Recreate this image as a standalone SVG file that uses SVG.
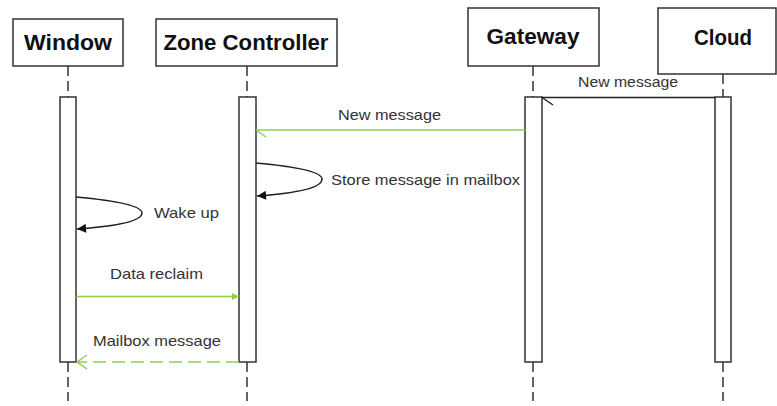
<svg xmlns="http://www.w3.org/2000/svg" width="777" height="406" viewBox="0 0 777 406">
  <style>
    .head { fill: #fff; stroke: #333; stroke-width: 1.5; }
    .title { font-family: "Liberation Sans", Arial, sans-serif; font-weight: bold; font-size: 22px; fill: #111; text-anchor: middle; }
    .life { stroke: #333; stroke-width: 1.5; stroke-dasharray: 10 5; fill: none; }
    .act { fill: #fff; stroke: #333; stroke-width: 1.5; }
    .label { font-family: "Liberation Sans", Arial, sans-serif; font-size: 14.5px; fill: #333; }
    .green { stroke: #8ccf4f; stroke-width: 1.5; fill: none; }
    .black { stroke: #222; stroke-width: 1.5; fill: none; }
  </style>
  <defs>
    <marker id="greenFill" viewBox="0 0 10 10" refX="10" refY="5" markerWidth="7" markerHeight="8" orient="auto" markerUnits="userSpaceOnUse">
      <path d="M0,0 L10,5 L0,10 Z" fill="#8ccf4f"/>
    </marker>
    <marker id="blackFill" viewBox="0 0 10 10" refX="10" refY="5" markerWidth="10" markerHeight="9" orient="auto" markerUnits="userSpaceOnUse">
      <path d="M0,0 L10,5 L0,10 Z" fill="#111"/>
    </marker>
  </defs>

  <rect width="777" height="406" fill="#fff"/>

  <g id="window">
    <rect class="head" x="13" y="19" width="110" height="47"/>
    <text class="title" x="68" y="50" textLength="88" lengthAdjust="spacingAndGlyphs">Window</text>
    <line class="life" x1="68" y1="66" x2="68" y2="97"/>
    <line class="life" x1="68" y1="362" x2="68" y2="401"/>
    <rect class="act" x="60" y="97" width="16" height="265"/>
  </g>

  <g id="zone-controller">
    <rect class="head" x="156" y="19" width="181" height="47"/>
    <text class="title" x="246" y="50" textLength="165" lengthAdjust="spacingAndGlyphs">Zone Controller</text>
    <line class="life" x1="247" y1="66" x2="247" y2="97"/>
    <line class="life" x1="247" y1="362" x2="247" y2="401"/>
    <rect class="act" x="239" y="97" width="17" height="265"/>
  </g>

  <g id="gateway">
    <rect class="head" x="468" y="8" width="131" height="58"/>
    <text class="title" x="533" y="44" textLength="93" lengthAdjust="spacingAndGlyphs">Gateway</text>
    <line class="life" x1="533" y1="66" x2="533" y2="97"/>
    <line class="life" x1="533" y1="362" x2="533" y2="401"/>
    <rect class="act" x="525" y="97" width="17" height="265"/>
  </g>

  <g id="cloud">
    <rect class="head" x="658" y="8" width="118" height="66"/>
    <text class="title" x="723" y="45" textLength="58" lengthAdjust="spacingAndGlyphs">Cloud</text>
    <line class="life" x1="723" y1="74" x2="723" y2="97"/>
    <line class="life" x1="723" y1="362" x2="723" y2="401"/>
    <rect class="act" x="715" y="97" width="16" height="265"/>
  </g>

  <g id="connectors">
    <!-- Cloud to Gateway -->
    <line class="black" x1="715" y1="97.5" x2="542" y2="97.5"/>
    <line class="black" x1="542" y1="97.5" x2="553" y2="105"/>
    <text class="label" x="578" y="87" textLength="100" lengthAdjust="spacingAndGlyphs">New message</text>

    <!-- Gateway to Zone Controller -->
    <line class="green" x1="525" y1="130" x2="256" y2="130"/>
    <line class="green" x1="256" y1="130" x2="266" y2="137"/>
    <text class="label" x="338" y="120" textLength="103" lengthAdjust="spacingAndGlyphs">New message</text>

    <!-- Zone Controller self call -->
    <path class="black" d="M256,163 C300,167 322,172 322,179 C322,187 300,193 257,196" marker-end="url(#blackFill)"/>
    <text class="label" x="331" y="185" textLength="189" lengthAdjust="spacingAndGlyphs">Store message in mailbox</text>

    <!-- Window self call -->
    <path class="black" d="M76,197 C120,201 142,206 142,213 C142,221 120,226 77,229" marker-end="url(#blackFill)"/>
    <text class="label" x="154" y="218" textLength="65" lengthAdjust="spacingAndGlyphs">Wake up</text>

    <!-- Window to Zone Controller -->
    <line class="green" x1="76" y1="296.5" x2="239" y2="296.5" marker-end="url(#greenFill)"/>
    <text class="label" x="110" y="279" textLength="93" lengthAdjust="spacingAndGlyphs">Data reclaim</text>

    <!-- Zone Controller reply to Window -->
    <line class="green" x1="239" y1="362" x2="77" y2="362" stroke-dasharray="13 6"/>
    <polyline class="green" points="87,355 77,362 87,369"/>
    <text class="label" x="93" y="346" textLength="128" lengthAdjust="spacingAndGlyphs">Mailbox message</text>
  </g>
</svg>
